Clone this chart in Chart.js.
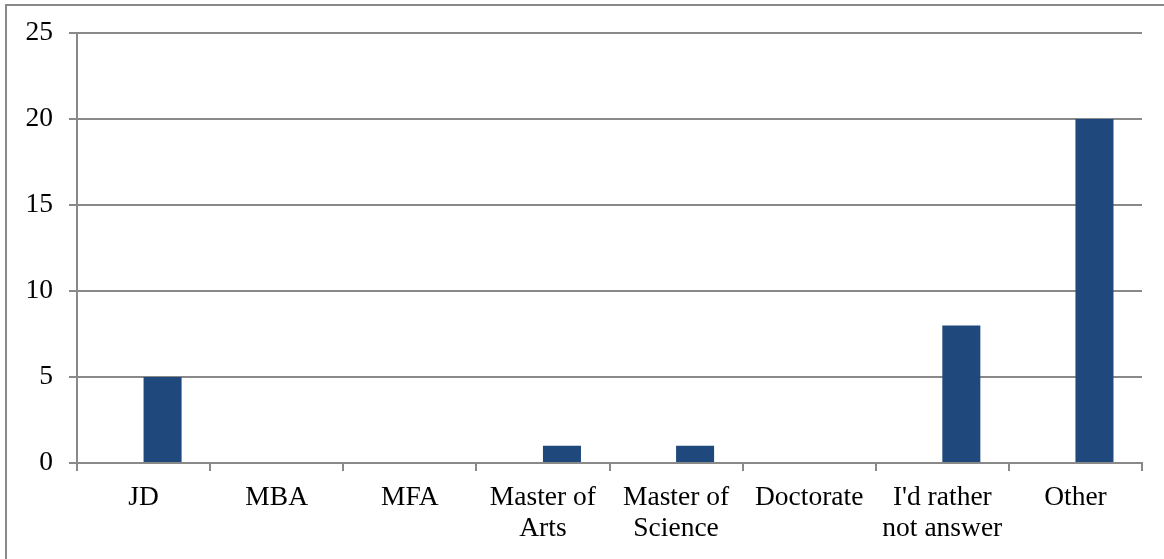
<!DOCTYPE html>
<html lang="en">
<head>
    <meta charset="UTF-8">
    <title>chart</title>
    <style>
        html, body { margin: 0; padding: 0; background: #fff; overflow: hidden; }
        #frame {
            position: absolute; left: 5px; top: 4px;
            width: 1200px; height: 600px;
            border: 2px solid #898989;
        }
        #wrap { position: absolute; left: 0; top: 0; width: 1164px; height: 559px; }
    </style>
</head>
<body>
    <div id="frame"></div>
    <div id="wrap">
        <canvas id="bar_chart"></canvas>
    </div>

    <script src="https://cdn.jsdelivr.net/npm/chart.js"></script>
    <script>
        // categories on the x axis (multi-line ones split into arrays)
        var categories = [
            'JD', 'MBA', 'MFA', ['Master of', 'Arts'], ['Master of', 'Science'],
            'Doctorate', ["I'd rather", 'not answer'], 'Other'
        ];
        // empty first series (Excel leaves a gap for it) and the visible series
        var emptySeries = [0, 0, 0, 0, 0, 0, 0, 0];
        var countSeries = [5, 0, 0, 1, 1, 0, 8, 20];
        var yTicks = [0, 5, 10, 15, 20, 25];

        var gray = '#898989';
        var font = { family: '"Liberation Serif", serif', size: 27.5, lineHeight: 1.13 };

        new Chart(document.getElementById('bar_chart'), {
            type: 'bar',
            data: {
                labels: categories,
                datasets: [{
                    label: 'empty',
                    data: emptySeries,
                    backgroundColor: '#4F81BD'
                }, {
                    label: 'count',
                    data: countSeries,
                    backgroundColor: '#1F497D'
                }]
            },
            options: {
                responsive: true,
                maintainAspectRatio: false,
                animation: false,
                datasets: { bar: { categoryPercentage: 2 / 3.5, barPercentage: 1 } },
                layout: { padding: { left: 0, top: 33, right: 22, bottom: 0 } },
                plugins: { legend: { display: false }, tooltip: { enabled: false } },
                scales: {
                    x: {
                        grid: { offset: true, drawOnChartArea: false, drawTicks: true, tickLength: 8, color: gray, lineWidth: 2 },
                        border: { color: gray, width: 2 },
                        ticks: { color: '#000', font: font, padding: 11, maxRotation: 0, autoSkip: false },
                        afterFit: function (s) { s.height = 96; }
                    },
                    y: {
                        min: yTicks[0],
                        max: yTicks[yTicks.length - 1],
                        grid: { color: gray, lineWidth: 2, tickLength: 8 },
                        border: { color: gray, width: 2 },
                        ticks: { stepSize: 5, color: '#000', font: font, padding: 16 },
                        afterFit: function (s) { s.width = 77; }
                    }
                }
            }
        });
    </script>
</body>
</html>
